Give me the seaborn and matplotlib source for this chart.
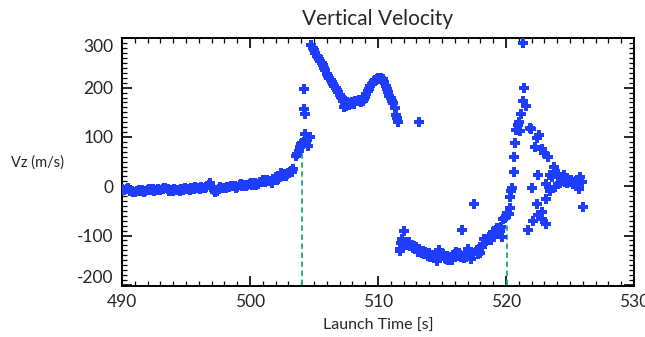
import numpy as np
import pandas as pd
import seaborn as sns
from matplotlib import pyplot as plt
from matplotlib.ticker import MultipleLocator
from matplotlib.transforms import ScaledTranslation

# launch time [s] and vertical velocity [m/s]
t_ascent = [490.0, 490.2, 490.4, 490.6, 490.8, 491.0, 491.2, 491.4, 491.6, 491.8,
            492.0, 492.2, 492.4, 492.6, 492.8, 493.0, 493.2, 493.4, 493.6, 493.8,
            494.0, 494.2, 494.4, 494.6, 494.8, 495.0, 495.2, 495.4, 495.6, 495.8,
            496.0, 496.2, 496.4, 496.6, 496.8, 497.0, 497.2, 497.4, 497.6, 497.8,
            498.0, 498.2, 498.4, 498.6, 498.8, 499.0, 499.2, 499.4, 499.6, 499.8,
            500.0, 500.2, 500.4, 500.6, 500.8, 501.0, 501.2, 501.4, 501.6, 501.8,
            502.0, 502.2, 502.4, 502.6, 502.8, 503.0, 503.2, 503.4,
            490.1, 490.5, 490.9, 491.3, 491.7, 492.1, 492.5, 492.9, 493.3, 493.7,
            494.1, 494.5, 494.9, 495.3, 495.7, 496.1, 496.5, 496.9, 497.3, 497.7,
            498.1, 498.5, 498.9, 499.3, 499.7, 500.1, 500.5, 500.9, 501.3, 501.7,
            502.1, 502.5, 502.9, 503.3]
v_ascent = [-5, -7, -6, -9, -10, -11, -9, -10, -8, -9,
            -7, -8, -6, -7, -5, -7, -6, -4, -6, -8,
            -9, -7, -8, -6, -7, -5, -6, -4, -5, -3,
            -4, -2, -4, -1, 3, -3, -7, -9, -6, -4,
            -3, -1, -2, 0, 1, -1, 2, 1, 3, 2,
            4, 3, 6, 5, 9, 12, 8, 11, 10, 14,
            18, 15, 26, 24, 21, 27, 30, 35,
            -8, -4, -12, -7, -11, -5, -9, -8, -3, -10,
            -6, -10, -4, -8, -2, -6, -3, 6, -11, -2,
            -4, 1, -3, 4, 0, 6, 2, 8, 13, 7,
            12, 20, 25, 29]

t_spike = [503.6, 503.7, 503.8, 503.9, 504.0, 504.1, 504.2, 504.25, 504.3, 504.3,
           504.4, 504.2, 504.55, 504.7]
v_spike = [62, 66, 72, 80, 85, 88, 198, 157, 147, 106, 89, 89, 82, 99]

t_coast = [504.8, 504.9, 505.0, 505.1, 505.2, 505.3, 505.4, 505.5, 505.6, 505.7,
           505.8, 505.9, 506.0, 506.1, 506.2, 506.3, 506.4, 506.5, 506.6, 506.7,
           506.8, 506.9, 507.0, 507.1, 507.2, 507.3, 507.35, 507.4, 507.5, 507.6,
           507.7, 507.8, 507.9, 508.0, 508.1, 508.2, 508.3, 508.4, 508.5, 508.6,
           508.7, 508.8, 508.9, 509.0, 509.1, 509.2, 509.3, 509.4, 509.5, 509.6,
           509.7, 509.8, 509.9, 510.0, 510.1, 510.2, 510.3, 510.4, 510.5, 510.6,
           510.7, 510.8, 510.9, 511.0, 511.1, 511.2, 511.3, 511.4, 511.5, 511.6,
           513.2]
v_coast = [287, 281, 276, 270, 264, 262, 258, 254, 251, 247,
           240, 236, 228, 224, 220, 216, 211, 208, 203, 199,
           196, 191, 186, 182, 179, 172, 160, 168, 163, 170,
           164, 168, 166, 170, 167, 172, 174, 172, 175, 173,
           170, 174, 178, 182, 188, 193, 198, 203, 208, 210,
           214, 216, 218, 219, 217, 220, 216, 218, 212, 204,
           198, 192, 184, 180, 172, 168, 158, 145, 138, 130,
           130]

t_descent = [511.7, 511.75, 511.8, 511.9, 512.0, 512.1, 512.2, 512.3, 512.4, 512.5,
             512.6, 512.7, 512.8, 512.9, 513.0, 513.1, 513.2, 513.3, 513.4, 513.5,
             513.6, 513.7, 513.8, 513.9, 514.0, 514.1, 514.2, 514.3, 514.4, 514.5,
             514.6, 514.7, 514.8, 514.9, 515.0, 515.1, 515.2, 515.3, 515.4, 515.5,
             515.6, 515.7, 515.8, 515.9, 516.0, 516.1, 516.2, 516.3, 516.4, 516.5,
             516.6, 516.7, 516.8, 516.9, 517.0, 517.1, 517.2, 517.3, 517.4, 517.5,
             517.7, 517.8, 517.9, 518.0, 518.1, 518.2, 518.3, 518.4, 518.5, 518.6,
             518.7, 518.8, 518.9, 519.0, 519.1, 519.2, 519.3, 519.4, 519.5, 519.6,
             519.7, 519.8, 519.9, 520.0, 520.1, 520.2, 520.3, 520.35, 520.4]
v_descent = [-127, -132, -115, -107, -90, -118, -120, -116, -114, -122,
             -119, -125, -121, -128, -124, -134, -128, -131, -136, -132,
             -138, -134, -137, -141, -136, -144, -139, -141, -146, -143,
             -151, -145, -130, -142, -141, -138, -145, -147, -141, -149,
             -147, -144, -150, -142, -138, -134, -141, -136, -140, -144,
             -89, -146, -137, -143, -127, -138, -142, -147, -136, -36,
             -130, -138, -128, -135, -124, -118, -107, -112, -108, -110,
             -103, -110, -100, -93, -95, -88, -85, -97, -90, -83,
             -103, -66, -64, -61, -55, -56, -45, -21, -9]

t_flip = [520.5, 520.6, 520.6, 520.7, 520.8, 520.9, 521.05, 521.1, 521.2, 521.3,
          521.35, 521.4, 521.6, 521.9, 521.95, 522.3, 522.4, 522.6, 522.8, 523.0,
          523.3, 523.75, 524.1, 521.75, 522.0, 522.1, 522.4, 522.5, 522.5, 522.8,
          522.8, 523.1, 523.1, 523.1, 523.4, 523.4, 523.6, 523.8, 524.3, 524.4,
          524.5, 524.6, 524.7, 524.8, 524.9, 525.0, 525.1, 525.2, 525.3, 525.4,
          525.5, 525.6, 525.7, 525.8, 525.9, 526.05, 524.2, 524.4]
v_flip = [-3, 28, 59, 87, 115, 125, 131, 113, 147, 291,
          174, 199, 162, 119, 116, 80, 98, 105, 76, 67,
          60, 40, 25, -88, -3, -71, -37, 23, -59, -53,
          -66, 5, -26, -76, 22, -10, 18, -2, 10, 14,
          22, 8, 12, 6, 10, 8, 12, 5, 9, 7,
          11, 4, -5, 18, 8, -43, 6, 16]

t_lines = [504.1, 520.1]
v_lines_top = [72, -63]

t = t_ascent + t_spike + t_coast + t_descent + t_flip
v = v_ascent + v_spike + v_coast + v_descent + v_flip
df = pd.DataFrame({'t': t, 'vz': v})

sns.set_style('ticks')
plt.rcParams['font.family'] = ['Lato', 'DejaVu Sans']
plt.rcParams['axes.unicode_minus'] = False

fig = plt.figure(figsize=(6.45, 3.37), dpi=100)
ax = fig.add_axes([0.189, 0.152, 0.794, 0.734])

sns.scatterplot(data=df, x='t', y='vz', marker='P', s=50, color='#1f3dff',
                linewidth=0, ax=ax, zorder=3)
for tx, top in zip(t_lines, v_lines_top):
    ax.vlines(tx, -200, top, colors='#16b070', linestyles=(0, (3, 2)), linewidth=1.3, zorder=2)

ax.set_xlim(490, 530)
ax.set_ylim(-202, 300)
ax.xaxis.set_major_locator(MultipleLocator(10))
ax.xaxis.set_minor_locator(MultipleLocator(1))
ax.yaxis.set_major_locator(MultipleLocator(100))
ax.yaxis.set_minor_locator(MultipleLocator(10))
ax.tick_params(which='both', direction='in', top=True, right=True, color='black')
ax.tick_params(which='major', length=7, width=1.2, labelsize=12.5, pad=6)
ax.tick_params(which='minor', length=3.5, width=0.9)
for sp in ax.spines.values():
    sp.set_linewidth(1.4)
    sp.set_color('black')

# the end labels sit a bit inside the frame, as in the original
fig.canvas.draw()
ylabels = ax.get_yticklabels()
shift = {'300': -5, '-200': 6}
for lab in ylabels:
    if lab.get_text() in shift:
        dy = shift[lab.get_text()] / 72.0
        lab.set_transform(lab.get_transform() + ScaledTranslation(0, dy, fig.dpi_scale_trans))

ax.set_title('Vertical Velocity', fontsize=15, pad=10)
ax.set_xlabel('Launch Time [s]', fontsize=11.5, labelpad=6)
ax.set_ylabel('Vz (m/s)', fontsize=10.5, rotation=0, ha='center', va='center')
ax.yaxis.set_label_coords(-0.165, 0.5)

plt.savefig('out.png', dpi=100)
